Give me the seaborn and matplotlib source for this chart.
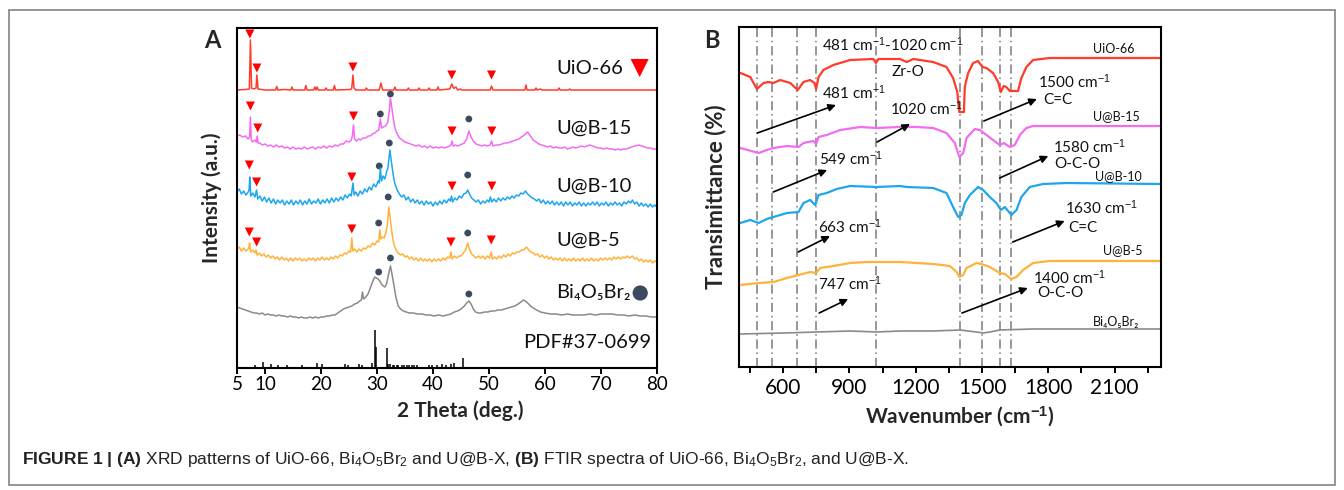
import numpy as np
import matplotlib
matplotlib.use("Agg")
import matplotlib.pyplot as plt
import seaborn as sns
from matplotlib.ticker import MultipleLocator
from matplotlib.patches import Rectangle

# ---------------- panel A : XRD (2theta, intensity a.u. with stacking offset) ----------------
uio_xrd = [(5.0, 278), (6.5, 278.5), (7.2, 279), (7.4, 328), (7.6, 280), (8.0, 279), (8.4, 280), (8.55, 293),
           (8.75, 279), (10.0, 278), (11.9, 278), (12.1, 281.5), (12.3, 278), (13.5, 278.5), (14.6, 278),
           (14.8, 281), (15.0, 278), (17.1, 278), (17.3, 282.5), (17.5, 278), (18.7, 278), (18.9, 281),
           (19.1, 278), (19.3, 281), (19.5, 278), (20.7, 278), (20.9, 280), (21.1, 278), (22.2, 278),
           (22.4, 282.5), (22.6, 278), (25.3, 278.5), (25.5, 280), (25.7, 293), (25.9, 280), (26.2, 278),
           (27.9, 278), (28.1, 280), (28.3, 278), (30.4, 278), (30.7, 285), (31.0, 278), (33.0, 278),
           (33.2, 281), (33.4, 278), (35.4, 278), (35.6, 280), (35.8, 278), (37.3, 278), (37.5, 280),
           (37.7, 278), (39.1, 278), (39.3, 280), (39.5, 278), (40.7, 278), (40.9, 281), (41.1, 278),
           (43.0, 279), (43.35, 284), (43.7, 279.5), (44.1, 281), (44.4, 278), (44.9, 279), (45.1, 278),
           (50.2, 278), (50.45, 282), (50.7, 278), (56.4, 278), (56.6, 283), (56.8, 278), (58.2, 278),
           (58.4, 280), (58.6, 278), (59.2, 279), (59.4, 278), (62.3, 278), (62.5, 280), (62.7, 278),
           (64.2, 278), (64.4, 279), (64.6, 278), (80.0, 278)]

ub15_xrd = [(5.0, 232), (5.5, 233), (6.0, 231), (6.5, 232), (7.0, 229), (7.25, 231), (7.4, 251), (7.55, 228),
            (7.8, 226), (8.2, 228), (8.45, 226), (8.6, 232), (8.75, 225), (9.1, 225), (9.5, 223), (10.0, 224),
            (10.5, 222), (11.0, 223), (11.5, 221), (12.0, 223), (12.5, 221), (13.0, 222), (13.5, 220),
            (14.0, 221), (14.5, 219), (15.0, 221), (15.5, 219), (16.0, 220), (16.5, 219), (17.0, 221),
            (17.5, 219), (18.0, 220), (18.5, 221), (19.0, 219), (19.5, 221), (20.0, 220), (20.5, 222),
            (21.0, 220), (21.5, 222), (22.0, 221), (22.5, 223), (23.0, 222), (23.5, 224), (24.0, 224),
            (24.5, 227), (25.0, 226), (25.4, 228), (25.6, 232), (25.8, 243), (26.0, 229), (26.3, 227),
            (26.7, 229), (27.1, 228), (27.5, 230), (28.0, 230), (28.4, 232), (28.8, 232), (29.2, 234),
            (29.6, 235), (30.0, 237), (30.3, 238), (30.6, 249), (30.8, 240), (31.1, 241), (31.5, 242),
            (31.9, 245), (32.15, 255), (32.4, 270), (32.7, 258), (33.0, 246), (33.3, 238), (33.7, 233),
            (34.0, 230), (34.5, 228), (35.0, 226), (35.5, 225), (36.0, 224), (36.5, 223), (37.0, 222),
            (37.5, 223), (38.0, 221), (38.5, 222), (39.0, 220), (39.5, 222), (40.0, 220), (40.5, 221),
            (41.0, 220), (41.5, 221), (42.0, 220), (42.5, 221), (43.0, 222), (43.2, 223), (43.4, 227),
            (43.6, 222), (44.0, 223), (44.4, 222), (44.8, 223), (45.2, 224), (45.6, 225), (46.0, 229),
            (46.4, 237), (46.8, 231), (47.2, 227), (47.7, 224), (48.2, 223), (48.7, 222), (49.2, 223),
            (49.7, 222), (50.2, 223), (50.45, 227), (50.7, 222), (51.2, 223), (51.8, 223), (52.3, 224),
            (52.8, 225), (53.3, 225), (53.8, 226), (54.3, 227), (54.8, 228), (55.3, 229), (55.8, 231),
            (56.3, 233), (56.9, 236), (57.4, 232), (57.9, 228), (58.4, 226), (58.9, 224), (59.4, 223),
            (60.0, 222), (60.5, 221), (61.0, 222), (61.5, 220), (62.0, 221), (62.5, 220), (63.0, 220),
            (63.5, 221), (64.0, 219), (64.5, 220), (65.0, 221), (65.5, 220), (66.0, 221), (66.5, 222),
            (67.0, 221), (67.5, 222), (68.0, 223), (68.5, 222), (69.0, 221), (69.5, 220), (70.0, 220),
            (70.5, 219), (71.0, 220), (71.5, 219), (72.0, 219), (72.5, 218), (73.0, 219), (73.5, 218),
            (74.0, 219), (74.5, 219), (75.0, 220), (75.5, 221), (76.0, 222), (76.8, 223), (77.3, 222),
            (77.8, 221), (78.3, 220), (78.8, 220), (79.3, 219), (80.0, 219)]

ub10_xrd = [(5.0, 176), (5.4, 179), (5.8, 174), (6.2, 177), (6.6, 173), (7.0, 176), (7.15, 178), (7.3, 191),
            (7.45, 172), (7.8, 175), (8.2, 171), (8.5, 178), (8.7, 169), (9.1, 172), (9.5, 167), (9.9, 171),
            (10.3, 166), (10.7, 170), (11.1, 165), (11.5, 169), (11.9, 164), (12.3, 168), (12.7, 165),
            (13.1, 168), (13.5, 163), (13.9, 167), (14.3, 164), (14.7, 168), (15.1, 163), (15.5, 167),
            (15.9, 164), (16.3, 168), (16.7, 163), (17.1, 167), (17.5, 164), (17.9, 169), (18.3, 164),
            (18.7, 167), (19.1, 165), (19.5, 169), (19.9, 164), (20.3, 168), (20.7, 165), (21.1, 169),
            (21.5, 165), (21.9, 170), (22.3, 166), (22.7, 170), (23.1, 167), (23.5, 171), (23.9, 168),
            (24.3, 173), (24.7, 170), (25.1, 174), (25.4, 172), (25.7, 185), (25.9, 173), (26.2, 176),
            (26.6, 172), (27.0, 177), (27.4, 174), (27.8, 179), (28.2, 176), (28.6, 181), (29.0, 178),
            (29.4, 184), (29.8, 181), (30.2, 187), (30.4, 185), (30.6, 200), (30.8, 187), (31.1, 192),
            (31.4, 189), (31.7, 196), (31.95, 200), (32.3, 218), (32.6, 205), (32.9, 193), (33.2, 184),
            (33.6, 178), (34.0, 174), (34.4, 171), (34.8, 173), (35.2, 168), (35.6, 171), (36.0, 166),
            (36.4, 169), (36.8, 165), (37.2, 168), (37.6, 164), (38.0, 167), (38.4, 163), (38.8, 167),
            (39.2, 164), (39.6, 166), (40.0, 162), (40.4, 166), (40.8, 163), (41.2, 167), (41.6, 164),
            (42.0, 168), (42.4, 165), (42.8, 169), (43.1, 167), (43.3, 172), (43.5, 166), (43.9, 170),
            (44.3, 168), (44.7, 172), (45.1, 170), (45.5, 174), (45.9, 175), (46.2, 178), (46.5, 174),
            (46.9, 170), (47.3, 168), (47.7, 166), (48.1, 168), (48.5, 164), (48.9, 167), (49.3, 165),
            (49.7, 168), (50.0, 166), (50.25, 171), (50.5, 166), (50.9, 169), (51.3, 166), (51.7, 170),
            (52.1, 167), (52.5, 170), (52.9, 168), (53.3, 171), (53.7, 169), (54.1, 172), (54.5, 170),
            (54.9, 173), (55.3, 172), (55.7, 175), (56.1, 174), (56.5, 177), (56.9, 174), (57.3, 172),
            (57.7, 170), (58.1, 169), (58.5, 167), (58.9, 169), (59.3, 165), (59.7, 168), (60.1, 164),
            (60.5, 167), (60.9, 164), (61.3, 167), (61.7, 163), (62.1, 166), (62.5, 163), (62.9, 166),
            (63.3, 162), (63.7, 166), (64.1, 163), (64.5, 166), (64.9, 162), (65.3, 165), (65.7, 163),
            (66.1, 166), (66.5, 162), (66.9, 165), (67.3, 162), (67.7, 165), (68.1, 163), (68.5, 166),
            (68.9, 163), (69.3, 166), (69.7, 162), (70.1, 165), (70.5, 163), (70.9, 166), (71.3, 162),
            (71.7, 165), (72.1, 163), (72.5, 166), (72.9, 163), (73.3, 165), (73.7, 162), (74.1, 166),
            (74.5, 164), (74.9, 167), (75.3, 165), (75.6, 168), (76.0, 164), (76.4, 166), (76.8, 162),
            (77.2, 165), (77.6, 162), (78.0, 164), (78.4, 161), (78.8, 164), (79.2, 161), (79.6, 163),
            (80.0, 161)]

ub5_xrd = [(5.0, 119), (5.4, 121), (5.8, 117), (6.2, 120), (6.6, 117), (7.0, 119), (7.1, 120), (7.25, 125),
           (7.4, 116), (7.8, 118), (8.2, 115), (8.4, 118), (8.6, 113), (9.0, 115), (9.4, 112), (9.8, 114),
           (10.2, 111), (10.6, 113), (11.0, 110), (11.4, 112), (11.8, 109), (12.2, 111), (12.6, 108),
           (13.0, 111), (13.4, 108), (13.8, 110), (14.2, 107), (14.6, 110), (15.0, 107), (15.4, 110),
           (15.8, 108), (16.2, 110), (16.6, 107), (17.0, 109), (17.4, 107), (17.8, 110), (18.2, 108),
           (18.6, 110), (19.0, 107), (19.4, 110), (19.8, 108), (20.2, 111), (20.6, 108), (21.0, 110),
           (21.4, 108), (21.8, 111), (22.2, 109), (22.6, 112), (23.0, 110), (23.4, 113), (23.8, 112),
           (24.2, 115), (24.6, 114), (25.0, 117), (25.3, 116), (25.5, 130), (25.7, 117), (26.0, 119),
           (26.4, 116), (26.8, 119), (27.2, 117), (27.6, 120), (28.0, 119), (28.4, 122), (28.8, 121),
           (29.2, 125), (29.6, 123), (30.0, 127), (30.3, 126), (30.5, 138), (30.7, 129), (31.0, 131),
           (31.3, 130), (31.6, 136), (31.85, 143), (32.1, 161), (32.4, 148), (32.7, 134), (33.0, 124),
           (33.4, 118), (33.8, 115), (34.2, 113), (34.6, 114), (35.0, 111), (35.4, 112), (35.8, 109),
           (36.2, 111), (36.6, 108), (37.0, 110), (37.4, 107), (37.8, 110), (38.2, 107), (38.6, 109),
           (39.0, 107), (39.4, 109), (39.8, 106), (40.2, 109), (40.6, 107), (41.0, 109), (41.4, 107),
           (41.8, 110), (42.2, 108), (42.6, 111), (43.0, 110), (43.2, 116), (43.4, 109), (43.8, 112),
           (44.2, 110), (44.6, 112), (45.0, 112), (45.4, 115), (45.8, 118), (46.2, 125), (46.5, 119),
           (46.9, 114), (47.3, 112), (47.7, 110), (48.1, 112), (48.5, 110), (48.9, 112), (49.3, 109),
           (49.7, 112), (50.1, 110), (50.4, 116), (50.6, 109), (51.0, 111), (51.4, 109), (51.8, 112),
           (52.2, 110), (52.6, 113), (53.0, 111), (53.4, 114), (53.8, 112), (54.2, 115), (54.6, 114),
           (55.0, 116), (55.4, 116), (55.8, 118), (56.2, 118), (56.7, 121), (57.1, 118), (57.5, 116),
           (57.9, 115), (58.3, 113), (58.7, 114), (59.1, 111), (59.5, 113), (59.9, 110), (60.3, 112),
           (60.7, 109), (61.1, 111), (61.5, 108), (61.9, 110), (62.3, 108), (62.7, 110), (63.1, 107),
           (63.5, 110), (63.9, 107), (64.3, 109), (64.7, 107), (65.1, 110), (65.5, 107), (65.9, 109),
           (66.3, 107), (66.7, 110), (67.1, 107), (67.5, 109), (67.9, 107), (68.3, 110), (68.7, 107),
           (69.1, 109), (69.5, 107), (69.9, 110), (70.3, 108), (70.7, 110), (71.1, 108), (71.5, 110),
           (71.9, 108), (72.3, 111), (72.7, 109), (73.1, 111), (73.5, 109), (73.9, 111), (74.3, 110),
           (74.7, 112), (75.1, 110), (75.6, 112), (76.0, 109), (76.4, 110), (76.8, 107), (77.2, 109),
           (77.6, 106), (78.0, 108), (78.4, 106), (78.8, 108), (79.2, 105), (79.6, 107), (80.0, 106)]

bob_xrd = [(5.0, 61), (5.5, 60), (6.0, 59), (6.5, 58), (7.0, 57), (7.5, 56), (8.0, 55), (8.5, 55), (9.0, 54),
           (9.5, 55), (10.0, 53), (10.5, 54), (11.0, 53), (11.5, 53), (12.0, 52), (12.5, 53), (13.0, 52),
           (13.5, 52), (14.0, 51), (14.5, 52), (15.0, 51), (15.5, 51), (16.0, 50), (16.5, 51), (17.0, 50),
           (17.5, 50), (18.0, 51), (18.5, 50), (19.0, 51), (19.5, 50), (20.0, 51), (20.5, 51), (21.0, 52),
           (21.5, 52), (22.0, 53), (22.5, 53), (23.0, 55), (23.5, 57), (24.0, 59), (24.5, 60), (25.0, 61),
           (25.5, 62), (26.0, 64), (26.5, 65), (26.9, 67), (27.2, 68), (27.4, 76), (27.6, 69), (28.0, 71),
           (28.4, 74), (28.8, 80), (29.2, 86), (29.6, 91), (29.9, 90), (30.2, 89), (30.5, 87), (30.8, 84),
           (31.1, 82), (31.4, 81), (31.7, 84), (32.0, 92), (32.4, 102), (32.8, 90), (33.1, 80), (33.4, 70),
           (33.8, 62), (34.2, 59), (34.7, 57), (35.2, 56), (35.8, 55), (36.5, 55), (37.2, 54), (38.0, 54),
           (38.8, 53), (39.5, 53), (40.2, 52), (41.0, 53), (41.8, 52), (42.5, 53), (43.2, 54), (43.8, 56),
           (44.4, 57), (45.0, 59), (45.6, 62), (46.0, 65), (46.4, 67), (46.8, 64), (47.2, 59), (47.6, 56),
           (48.1, 55), (48.6, 55), (49.2, 56), (49.8, 56), (50.4, 57), (51.0, 57), (51.6, 58), (52.2, 58),
           (52.8, 59), (53.4, 60), (54.0, 61), (54.6, 62), (55.2, 64), (55.7, 66), (56.1, 68), (56.5, 67),
           (56.9, 65), (57.4, 62), (57.9, 60), (58.5, 58), (59.2, 56), (60.0, 55), (61.0, 54), (62.0, 54),
           (63.0, 53), (64.0, 54), (65.0, 53), (66.0, 53), (67.0, 53), (68.0, 54), (69.0, 53), (70.0, 54),
           (71.0, 54), (72.0, 54), (73.0, 53), (74.0, 53), (75.0, 52), (76.0, 53), (77.0, 52), (78.0, 52),
           (79.0, 51), (80.0, 51)]

# PDF#37-0699 reference sticks
pdf_pos = [8.2, 9.7, 11.1, 12.4, 13.9, 16.6, 19.2, 20.1, 24.3, 24.9, 26.7, 27.3, 29.05, 29.6, 29.75, 31.7,
           31.9, 32.3, 32.9, 33.1, 33.5, 33.8, 34.4, 34.9, 35.3, 35.7, 36.2, 36.6, 37.1, 39.2, 39.8, 40.7,
           41.6, 42.4, 43.3, 43.8, 45.4]
pdf_int = [3, 6, 4, 3, 3, 3, 5, 4, 4, 3, 4, 3, 5, 38, 21, 20, 4, 4, 3, 3, 3, 3, 3, 3, 3, 3, 3, 3, 3, 3, 3, 3,
           4, 3, 4, 5, 10]

# peak markers (2theta, y)
tri_marks = [(7.3, 334), (8.55, 300), (25.7, 301), (43.35, 293), (50.45, 293),
             (7.4, 262), (8.7, 240), (25.8, 252), (43.4, 237), (50.5, 237),
             (7.2, 203), (8.5, 186), (25.5, 191), (43.4, 182), (50.5, 182),
             (7.2, 136), (8.5, 126), (25.5, 139), (43.2, 126), (50.4, 128)]
dot_marks = [(30.6, 254), (32.4, 274), (46.4, 249),
             (30.4, 202), (32.2, 225), (46.2, 193),
             (30.3, 145), (32.0, 171), (46.2, 135),
             (30.3, 96), (32.4, 110), (46.4, 74)]

xrd_labels = ["UiO-66", "U@B-15", "U@B-10", "U@B-5", "Bi\u2084O\u2085Br\u2082", "PDF#37-0699"]
xrd_label_y = [300, 240, 182, 128, 75, 25]

# ---------------- panel B : FTIR (wavenumber, transmittance with stacking offset) ----------------
uio_ir = [(406, 294), (451, 290), (481, 278), (511, 284), (534, 285), (556, 284), (586, 287), (632, 284),
          (666, 277), (692, 285), (722, 287), (742, 284), (749, 278), (760, 290), (782, 297), (827, 302),
          (903, 307), (1008, 308), (1020, 304), (1031, 308), (1129, 308), (1159, 305), (1189, 308),
          (1279, 305), (1339, 300), (1369, 289), (1388, 275), (1397, 255), (1418, 255), (1422, 280),
          (1437, 294), (1460, 304), (1482, 306), (1502, 300), (1520, 299), (1550, 294), (1573, 285),
          (1585, 275), (1598, 281), (1610, 280), (1626, 276), (1663, 276), (1678, 289), (1701, 300),
          (1731, 307), (1806, 309), (2310, 309)]
ub15_ir = [(406, 219), (489, 214), (526, 217), (556, 219), (617, 221), (669, 220), (692, 224), (737, 226),
           (749, 223), (760, 230), (797, 232), (858, 237), (948, 240), (1023, 239), (1129, 240), (1204, 240),
           (1279, 239), (1339, 234), (1377, 224), (1397, 210), (1415, 214), (1430, 229), (1467, 238),
           (1490, 237), (1520, 232), (1550, 227), (1580, 222), (1598, 224), (1626, 220), (1648, 222),
           (1671, 232), (1701, 239), (1731, 241), (2310, 241)]
ub10_ir = [(406, 144), (451, 147), (489, 144), (526, 148), (556, 150), (617, 154), (669, 155), (692, 164),
           (722, 167), (745, 162), (760, 172), (797, 174), (842, 178), (903, 181), (1023, 180), (1129, 181),
           (1159, 180), (1279, 179), (1339, 174), (1369, 160), (1392, 150), (1407, 152), (1422, 164),
           (1445, 172), (1482, 180), (1505, 177), (1535, 170), (1565, 164), (1585, 157), (1603, 160),
           (1633, 152), (1656, 157), (1678, 170), (1716, 180), (1776, 183), (1882, 184), (2310, 183)]
ub5_ir = [(406, 82), (489, 84), (556, 85), (617, 89), (669, 92), (722, 95), (749, 94), (767, 99), (827, 101),
          (903, 104), (978, 105), (1129, 105), (1279, 103), (1354, 101), (1385, 95), (1397, 90), (1415, 92),
          (1430, 99), (1475, 104), (1498, 103), (1535, 100), (1580, 94), (1603, 93), (1633, 88), (1656, 90),
          (1686, 97), (1731, 104), (1806, 106), (2310, 106)]
bob_ir = [(406, 33), (602, 34), (752, 35), (903, 36), (1023, 35), (1129, 36), (1279, 36), (1400, 37),
          (1475, 35), (1505, 34), (1535, 35), (1580, 37), (1731, 38), (2310, 38)]

band_pos = [481, 549, 663, 747, 1020, 1400, 1500, 1580, 1630]

ir_labels = ["UiO-66", "U@B-15", "U@B-10", "U@B-5", "Bi\u2084O\u2085Br\u2082"]
ir_label_xy = [(2001, 318), (2001, 251), (2010, 191), (2046, 117), (2001, 45)]

band_texts = [("481 cm$^{-1}$", 776, 274), ("1020 cm$^{-1}$", 1083, 258), ("1500 cm$^{-1}$", 1752, 285),
              ("C=C", 1775, 267), ("549 cm$^{-1}$", 763, 208), ("1580 cm$^{-1}$", 1820, 220),
              ("O-C-O", 1829, 203), ("663 cm$^{-1}$", 758, 140), ("1630 cm$^{-1}$", 1874, 159),
              ("C=C", 1888, 139), ("747 cm$^{-1}$", 758, 83), ("1400 cm$^{-1}$", 1730, 89),
              ("O-C-O", 1748, 74)]
band_arrows = [((483, 234), (839, 262)), ((1025, 225), (1174, 243)), ((1508, 246), (1748, 268)),
               ((555, 175), (799, 197)), ((1580, 189), (1800, 211)), ((668, 115), (812, 131)),
               ((1639, 125), (1874, 146)), ((763, 54), (894, 68)), ((1409, 54), (1707, 79))]

red = "#ff3b2a"
magenta = "#f26cf2"
blue = "#1ea6ee"
orange = "#ffb23a"
grey = "#8a8a8a"
navy = "#3b4a5e"

sns.set_theme(style="white")
plt.rcParams["font.family"] = ["Lato", "DejaVu Sans"]
plt.rcParams["mathtext.fontset"] = "custom"
plt.rcParams["mathtext.rm"] = "Liberation Sans"
plt.rcParams["mathtext.bf"] = "Liberation Sans:bold"
plt.rcParams["mathtext.it"] = "Liberation Sans:italic"

fig = plt.figure(figsize=(13.44, 4.9), dpi=100)
axA = fig.add_axes([237 / 1344, 122 / 490, 420 / 1344, 340 / 490])
axB = fig.add_axes([739 / 1344, 123 / 490, 422 / 1344, 340 / 490])


def draw(ax, pts, color, lw):
    arr = np.array(pts, dtype=float)
    sns.lineplot(x=arr[:, 0], y=arr[:, 1], ax=ax, color=color, linewidth=lw, sort=False, estimator=None)


# ---- panel A
for pts, c in [(uio_xrd, red), (ub15_xrd, magenta), (ub10_xrd, blue), (ub5_xrd, orange), (bob_xrd, grey)]:
    draw(axA, pts, c, 1.1)
axA.vlines(pdf_pos, 0, pdf_int, color="black", linewidth=1.1)
tri = np.array(tri_marks)
dot = np.array(dot_marks)
sns.scatterplot(x=tri[:, 0], y=tri[:, 1], marker="v", color="#ff0000", s=42, edgecolor="none", ax=axA)
sns.scatterplot(x=dot[:, 0], y=dot[:, 1], marker="o", color=navy, s=24, edgecolor="none", ax=axA)

for lab, yy in zip(xrd_labels, xrd_label_y):
    if lab.startswith("PDF"):
        axA.text(79.0, yy, lab, ha="right", va="center", fontsize=14.5, color="#111111")
    else:
        axA.text(62.0, yy, lab, ha="left", va="center", fontsize=14.5, color="#111111")
axA.scatter([76.9], [xrd_label_y[0]], marker="v", s=170, color="#ff0000", edgecolor="none")
axA.scatter([77.0], [xrd_label_y[4]], marker="o", s=120, color=navy, edgecolor="none")

axA.set_xlim(5, 80)
axA.set_ylim(0, 340)
axA.set_xticks([5, 10, 20, 30, 40, 50, 60, 70, 80])
axA.set_yticks([])
axA.set_xlabel("2 Theta (deg.)", fontsize=15, fontweight="bold")
axA.xaxis.set_label_coords(0.531, -0.095)
axA.set_ylabel("Intensity (a.u.)", fontsize=15, fontweight="bold")
axA.yaxis.set_label_coords(-0.035, 0.5)

# ---- panel B
for wn in band_pos:
    axB.axvline(wn, color="#7a7a7a", linewidth=1.1, linestyle=(0, (6, 2.5, 1, 2.5)), zorder=1)
for pts, c, lw in [(uio_ir, red, 1.6), (ub15_ir, magenta, 1.6), (ub10_ir, blue, 1.6), (ub5_ir, orange, 1.6),
                   (bob_ir, grey, 1.2)]:
    draw(axB, pts, c, lw)

for lab, (xx, yy) in zip(ir_labels, ir_label_xy):
    axB.text(xx, yy, lab, ha="left", va="center", fontsize=9, color="#111111")
axB.text(1097, 322, "481 cm$^{-1}$-1020 cm$^{-1}$", ha="center", va="center", fontsize=11, color="#111111")
axB.text(1165, 295, "Zr-O", ha="center", va="center", fontsize=11, color="#111111")
for lab, xx, yy in band_texts:
    axB.text(xx, yy, lab, ha="left", va="center", fontsize=11, color="#111111")
for (x1, y1), (x2, y2) in band_arrows:
    axB.annotate("", xy=(x2, y2), xytext=(x1, y1),
                 arrowprops=dict(arrowstyle="-|>", color="black", lw=1.2, mutation_scale=11,
                                 shrinkA=0, shrinkB=0))

axB.set_xlim(400, 2310)
axB.set_ylim(0, 340)
axB.set_xticks([600, 900, 1200, 1500, 1800, 2100])
axB.xaxis.set_minor_locator(MultipleLocator(150))
axB.set_yticks([])
axB.set_xlabel("Wavenumber (cm$^{\\mathbf{-1}}$)", fontsize=15, fontweight="bold")
axB.xaxis.set_label_coords(0.524, -0.11)
axB.set_ylabel("Transimittance (%)", fontsize=16, fontweight="bold")
axB.yaxis.set_label_coords(-0.03, 0.5)

for ax, ls, pd_ in [(axA, 13.5, 2), (axB, 15, 4)]:
    for sp in ax.spines.values():
        sp.set_color("black")
        sp.set_linewidth(1.5)
    ax.tick_params(axis="x", which="both", direction="out", length=4, width=1.4, bottom=True,
                   labelsize=ls, pad=pd_, colors="black")
    ax.set_facecolor("white")

fig.text(212 / 1344, 1 - 40 / 490, "A", fontsize=17, fontweight="bold", ha="center", va="center")
fig.text(712 / 1344, 1 - 40 / 490, "B", fontsize=17, fontweight="bold", ha="center", va="center")

fig.text(22 / 1344, 1 - 459 / 490,
         r"$\mathbf{FIGURE\ 1\ |\ (A)}$ XRD patterns of UiO-66, Bi$_4$O$_5$Br$_2$ and U@B-X, "
         r"$\mathbf{(B)}$ FTIR spectra of UiO-66, Bi$_4$O$_5$Br$_2$, and U@B-X.",
         fontsize=12.5, family="Liberation Sans", color="#222222", ha="left", va="center")

fig.patches.append(Rectangle((9 / 1344, 5 / 490), 1326 / 1344, 475 / 490, transform=fig.transFigure,
                             fill=False, edgecolor="#8c8c8c", linewidth=1.3))

fig.savefig("out.png", dpi=100, facecolor="white")
